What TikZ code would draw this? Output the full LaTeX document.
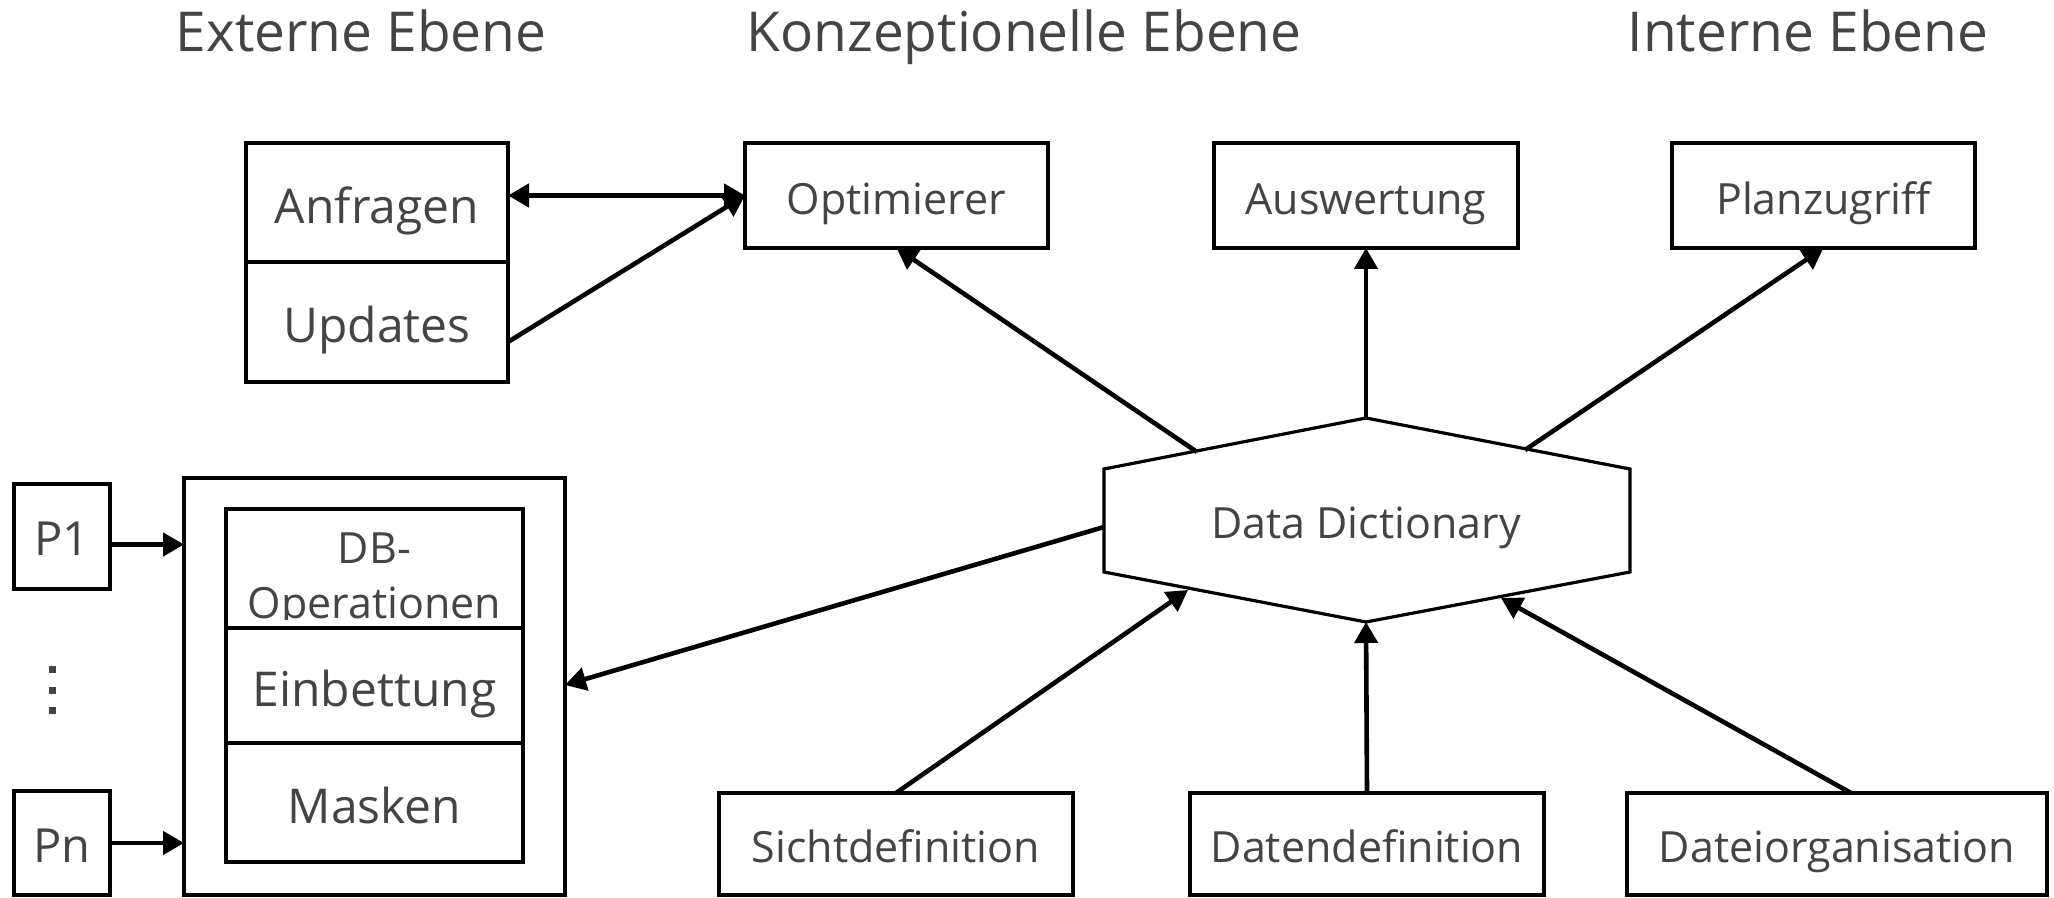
\documentclass[tikz,border=0pt]{standalone}
\usepackage{fontspec}
\setmainfont{Open Sans}
\usetikzlibrary{arrows.meta,calc}
\definecolor{txt}{RGB}{68,68,68}
\begin{document}
\begin{tikzpicture}[x=0.5pt,y=-0.5pt,
  box/.style={draw=black,line width=1.6pt,inner sep=0pt,outer sep=0pt,text=txt,text depth=0pt},
  fs/.style={font=\fontsize{21.5}{27.5}\selectfont,text height=18.9pt},
  fl/.style={font=\fontsize{24}{30}\selectfont,text height=20.6pt},
  fp/.style={font=\fontsize{23.5}{29}\selectfont,text height=19.3pt},
  title/.style={text=txt,font=\fontsize{27.5}{33}\selectfont,anchor=base,inner sep=0pt},
  conn/.style={line width=2.3pt,-{Triangle[length=10.5pt,width=11.5pt]}},
  biconn/.style={line width=2.3pt,{Triangle[length=10.5pt,width=11.5pt]}-{Triangle[length=10.5pt,width=11.5pt]}},
  dot/.style={fill=txt,inner sep=0pt,minimum size=3.5pt,draw=none}]
\useasboundingbox (0,0) rectangle (2054,898);

% titles
\node[title] (t1) at (361,52) {Externe Ebene};
\node[title] (t2) at (1024,52) {Konzeptionelle Ebene};
\node[title] (t3) at (1808,52) {Interne Ebene};

% top boxes
\node[box,fl,minimum width=131pt,minimum height=59.5pt] (anf) at (377,202.5) {Anfragen};
\node[box,fl,minimum width=131pt,minimum height=60pt] (upd) at (377,322) {Updates};
\node[box,fs,minimum width=151.5pt,minimum height=52.5pt] (opt) at (896.5,195.5) {Optimierer};
\node[box,fs,minimum width=152pt,minimum height=52.5pt] (ausw) at (1366,195.5) {Auswertung};
\node[box,fs,minimum width=151.5pt,minimum height=52.5pt] (plan) at (1823.5,195.5) {Planzugriff};

% hexagon
\coordinate (hT) at (1366,418);
\coordinate (hTR) at (1630,469);
\coordinate (hBR) at (1630,572);
\coordinate (hB) at (1366,622);
\coordinate (hBL) at (1104,572);
\coordinate (hTL) at (1104,469);
\draw[line width=1.6pt,line join=miter] (hT) -- (hTR) -- (hBR) -- (hB) -- (hBL) -- (hTL) -- cycle;
\node[text=txt,fs,inner sep=0pt,text depth=0pt] (dd) at (1366,520) {Data Dictionary};
\coordinate (eOpt) at (1197,452);
\coordinate (ePlan) at (1525,450);
\coordinate (eProg) at (1104,527);
\coordinate (eSicht) at (1188,590);
\coordinate (eDatei) at (1501,598);

% left group
\node[box,fp,minimum width=48pt,minimum height=52.5pt] (p1) at (62,536.5) {P1};
\node[box,fp,minimum width=48pt,minimum height=52pt] (pn) at (62,843) {Pn};
\node[dot] (d1) at (52,669) {};
\node[dot] (d2) at (52,690) {};
\node[dot] (d3) at (52,710) {};
\node[box,minimum width=190.5pt,minimum height=208.5pt] (prog) at (374.5,686.5) {};
\node[box,minimum width=148.5pt,minimum height=59.5pt] (dbop) at (374.5,568.5) {};
\node[box,fl,minimum width=148.5pt,minimum height=57.5pt] (einb) at (374.5,685.5) {Einbettung};
\node[box,fl,minimum width=148.5pt,minimum height=59.5pt] (mask) at (374.5,802.5) {Masken};
\begin{scope}
  \clip (226,509) rectangle (523,619);
  \node[text=txt,font=\fontsize{21.5}{27.5}\selectfont,align=center,anchor=north,inner sep=0pt] (dbtxt) at (374.5,532.5) {DB-\\Operationen};
\end{scope}
\coordinate (progin) at (565,685);

% bottom boxes
\node[box,fs,minimum width=177pt,minimum height=51pt] (sicht) at (896,844) {Sichtdefinition};
\node[box,fs,minimum width=177pt,minimum height=51pt] (daten) at (1367,844) {Datendefinition};
\node[box,fs,minimum width=210pt,minimum height=51pt] (datei) at (1837,844) {Dateiorganisation};

% connectors
\coordinate (updout) at (508,342);
\draw[biconn] (anf.east |- opt.west) -- (opt.west);
\draw[conn] (updout) -- (opt.west);
\draw[conn] (eOpt) -- (opt.south);
\draw[conn] (hT) -- (ausw.south);
\draw[conn] (ePlan) -- (plan.south);
\draw[conn] (eProg) -- (progin);
\draw[conn] (sicht.north) -- (eSicht);
\draw[conn] (daten.north) -- (hB);
\draw[conn] ([xshift=7pt]datei.north) -- (eDatei);
\draw[conn] ([yshift=-4pt]p1.east) -- ([yshift=-4pt]p1.east -| prog.west);
\draw[conn] (pn.east) -- (pn.east -| prog.west);
\end{tikzpicture}
\end{document}
